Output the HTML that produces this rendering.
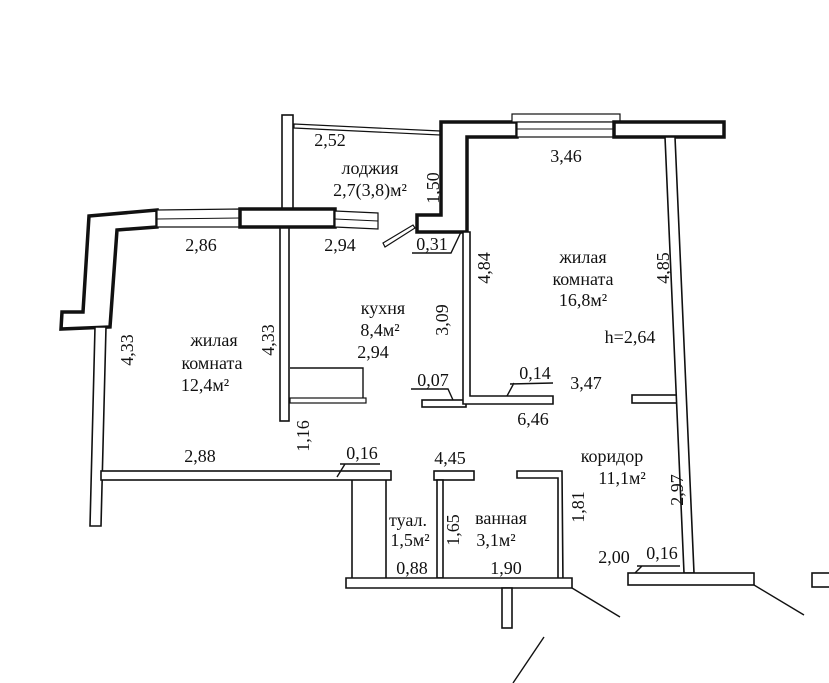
<!DOCTYPE html>
<html><head><meta charset="utf-8"><style>
html,body{margin:0;padding:0;background:#fff;}
svg{display:block;}
text{font-family:"Liberation Serif",serif;font-size:18px;fill:#111;}
</style></head><body>
<svg width="829" height="683" viewBox="0 0 829 683" xmlns="http://www.w3.org/2000/svg">
<g fill="#fff" stroke="#111" stroke-width="1.6">
<path d="M294 124 L440 131 L440 135 L294 128Z" stroke-width="1.2"/>
<rect x="282" y="115" width="11" height="110"/>
<rect x="280" y="227" width="9" height="194"/>
<path d="M441 122 L517 122 L517 137 L467 137 L467 232 L417 232 L417 215 L441 215Z" stroke-width="3.5"/>
<rect x="512" y="114" width="108" height="8" stroke-width="1.2"/>
<rect x="517" y="122" width="97" height="15" stroke-width="1.2"/>
<line x1="517" y1="129" x2="614" y2="129" stroke-width="1"/>
<rect x="614" y="122" width="110" height="15" stroke-width="3.5"/>
<path d="M89 216 L157 210 L157 227 L117 230 L110 327 L61 329 L62 312 L83 312Z" stroke-width="3.5"/>
<path d="M157 210 L240 209 L240 227 L157 227Z" stroke-width="1.2"/>
<line x1="157" y1="219" x2="240" y2="218" stroke-width="1"/>
<rect x="240" y="209" width="95" height="18" stroke-width="3.5"/>
<path d="M335 211 L378 213 L378 229 L335 227Z" stroke-width="1.2"/>
<line x1="335" y1="219" x2="378" y2="221" stroke-width="1"/>
<path d="M383 243 L413 225 L415 228 L385 247Z" stroke-width="1.2"/>
<path d="M95 327 L106 327 L101 526 L90 526Z"/>
<path d="M290 368 L363 368 L363 398" stroke-width="1.4" fill="none"/>
<rect x="290" y="398" width="76" height="5" stroke-width="1.2"/>
<rect x="422" y="400" width="44" height="7"/>
<path d="M463 232 L470 232 L470 396 L553 396 L553 404 L463 404Z"/>
<rect x="632" y="395" width="46" height="8"/>
<path d="M665 137 L675 137 L694 573 L684 573Z"/>
<rect x="101" y="471" width="290" height="9"/>
<line x1="352" y1="480" x2="352" y2="578"/>
<line x1="386" y1="480" x2="386" y2="578"/>
<rect x="434" y="471" width="40" height="9"/>
<rect x="437" y="480" width="6" height="98"/>
<path d="M517 471 L562 471 L563 585 L558 585 L558 478 L517 478Z"/>
<path d="M346 578 L572 578 L572 588 L346 588Z"/>
<rect x="502" y="588" width="10" height="40"/>
<rect x="628" y="573" width="126" height="12"/>
<rect x="812" y="573" width="20" height="14"/>
</g>
<g stroke="#111" stroke-width="1.4" fill="none">
<line x1="572" y1="588" x2="620" y2="617"/>
<line x1="544" y1="637" x2="513" y2="683"/>
<line x1="754" y1="585" x2="804" y2="615"/>
<path d="M412 253 L451 253 L461 232"/>
<path d="M411 389 L448 389 L453 400"/>
<path d="M510 384 L553 383 M514 383 L507 396"/>
<path d="M340 464 L380 464 M345 464 L337 477"/>
<path d="M637 566 L680 566 M642 566 L635 573"/>
</g>
<g>
<text x="330" y="146" text-anchor="middle">2,52</text>
<text x="370" y="174" text-anchor="middle">лоджия</text>
<text x="370" y="196" text-anchor="middle">2,7(3,8)м²</text>
<text transform="translate(439,188) rotate(-90)" text-anchor="middle">1,50</text>
<text x="201" y="251" text-anchor="middle">2,86</text>
<text x="340" y="251" text-anchor="middle">2,94</text>
<text x="432" y="250" text-anchor="middle">0,31</text>
<text x="566" y="162" text-anchor="middle">3,46</text>
<text x="583" y="263" text-anchor="middle">жилая</text>
<text x="583" y="285" text-anchor="middle">комната</text>
<text x="583" y="306" text-anchor="middle">16,8м²</text>
<text transform="translate(490,268) rotate(-90)" text-anchor="middle">4,84</text>
<text transform="translate(669,268) rotate(-90)" text-anchor="middle">4,85</text>
<text x="630" y="343" text-anchor="middle">h=2,64</text>
<text x="586" y="389" text-anchor="middle">3,47</text>
<text x="535" y="379" text-anchor="middle">0,14</text>
<text x="533" y="425" text-anchor="middle">6,46</text>
<text x="433" y="386" text-anchor="middle">0,07</text>
<text transform="translate(448,320) rotate(-90)" text-anchor="middle">3,09</text>
<text x="383" y="314" text-anchor="middle">кухня</text>
<text x="380" y="336" text-anchor="middle">8,4м²</text>
<text x="373" y="358" text-anchor="middle">2,94</text>
<text transform="translate(133,350) rotate(-90)" text-anchor="middle">4,33</text>
<text transform="translate(274,340) rotate(-90)" text-anchor="middle">4,33</text>
<text x="214" y="346" text-anchor="middle">жилая</text>
<text x="212" y="369" text-anchor="middle">комната</text>
<text x="205" y="391" text-anchor="middle">12,4м²</text>
<text transform="translate(309,436) rotate(-90)" text-anchor="middle">1,16</text>
<text x="200" y="462" text-anchor="middle">2,88</text>
<text x="362" y="459" text-anchor="middle">0,16</text>
<text x="450" y="464" text-anchor="middle">4,45</text>
<text x="612" y="462" text-anchor="middle">коридор</text>
<text x="622" y="484" text-anchor="middle">11,1м²</text>
<text transform="translate(683,490) rotate(-90)" text-anchor="middle">2,97</text>
<text transform="translate(584,507) rotate(-90)" text-anchor="middle">1,81</text>
<text x="408" y="526" text-anchor="middle">туал.</text>
<text x="410" y="546" text-anchor="middle">1,5м²</text>
<text transform="translate(459,530) rotate(-90)" text-anchor="middle">1,65</text>
<text x="501" y="524" text-anchor="middle">ванная</text>
<text x="496" y="546" text-anchor="middle">3,1м²</text>
<text x="412" y="574" text-anchor="middle">0,88</text>
<text x="506" y="574" text-anchor="middle">1,90</text>
<text x="614" y="563" text-anchor="middle">2,00</text>
<text x="662" y="559" text-anchor="middle">0,16</text>
</g>
</svg>
</body></html>
